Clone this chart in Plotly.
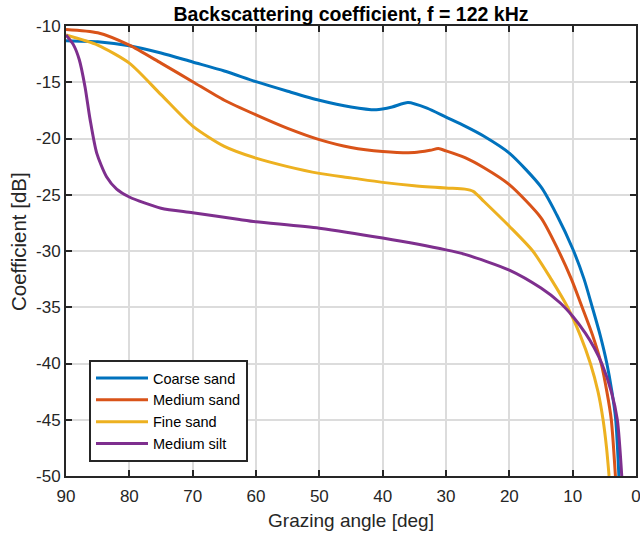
import plotly.graph_objects as go

# ---- data ----
coarse_x = [90, 85, 80, 75, 70, 65, 60, 55, 50, 45, 41, 38.5, 36, 33, 30, 27, 24, 20, 15, 12.5, 10, 8.2, 6.9, 5.65, 4.6, 3.8, 3.2, 2.7]
coarse_y = [-11.3, -11.4, -11.75, -12.4, -13.2, -14.0, -14.95, -15.8, -16.6, -17.2, -17.45, -17.2, -16.8, -17.3, -18.1, -18.9, -19.8, -21.3, -24.3, -26.8, -29.8, -32.5, -35, -37.5, -40, -42.5, -45, -50]

medium_sand_x = [90, 85, 80, 75, 70, 65, 60, 55, 50, 45, 40, 35, 32.5, 31.2, 30, 27, 24, 20, 15, 12.3, 10.2, 8.5, 6.85, 5.5, 4.6, 3.9, 3.25]
medium_sand_y = [-10.3, -10.6, -11.7, -13.3, -14.95, -16.6, -17.9, -19.1, -20.1, -20.8, -21.15, -21.25, -21.05, -20.9, -21.1, -21.7, -22.6, -24.1, -27.05, -29.9, -32.5, -35, -37.5, -40, -42.5, -45, -50]

fine_x = [90, 85, 80, 75, 70, 65, 60, 55, 50, 45, 40, 35, 30, 27, 25.7, 24, 20, 16.3, 13.4, 10.8, 8.8, 7.2, 6.0, 5.2, 4.65, 4.25]
fine_y = [-10.8, -11.7, -13.3, -16.1, -18.9, -20.7, -21.75, -22.5, -23.1, -23.5, -23.9, -24.2, -24.4, -24.5, -24.7, -25.6, -27.8, -30, -32.5, -35, -37.5, -40, -42.5, -45, -47.5, -50]

silt_x = [90, 88.8, 87.9, 87.0, 86.2, 85.15, 83.6, 82.0, 80, 75, 70, 62.6, 60, 50, 40, 30, 27, 20, 15, 12, 10, 8, 6.6, 5.4, 3.9, 2.95, 2.25]
silt_y = [-10.8, -11.7, -13.0, -15.4, -18.3, -21.3, -23.4, -24.5, -25.2, -26.2, -26.6, -27.2, -27.4, -27.97, -28.85, -29.9, -30.3, -31.7, -33.3, -34.6, -35.8, -37.3, -38.6, -40, -42.5, -45, -50]

names = ["Coarse sand", "Medium sand", "Fine sand", "Medium silt"]
colors = ["#0072BD", "#D95319", "#EDB120", "#7E2F8E"]
series = [(coarse_x, coarse_y), (medium_sand_x, medium_sand_y), (fine_x, fine_y), (silt_x, silt_y)]

x_ticks = [90, 80, 70, 60, 50, 40, 30, 20, 10, 0]
x_tick_text = ["90", "80", "70", "60", "50", "40", "30", "20", "10", "0"]
y_ticks = [-10, -15, -20, -25, -30, -35, -40, -45, -50]
y_tick_text = ["-10", "-15", "-20", "-25", "-30", "-35", "-40", "-45", "-50"]

FONT = "Arial, Liberation Sans, Helvetica, sans-serif"
DARK = "#262626"

fig = go.Figure()
for (xs, ys), name, col in zip(series, names, colors):
    fig.add_trace(go.Scatter(
        x=xs, y=ys, mode="lines", name=name,
        line=dict(color=col, width=3, shape="spline", smoothing=0.7),
    ))

axis_common = dict(
    showline=True, linecolor=DARK, linewidth=2, mirror="ticks",
    ticks="inside", ticklen=6, tickwidth=2, tickcolor=DARK,
    showgrid=True, gridcolor="#dcdcdc", gridwidth=2,
    zeroline=False, automargin=False, ticklabeloverflow="allow",
    tickfont=dict(family=FONT, size=17, color=DARK),
)

fig.update_layout(
    width=640, height=537,
    margin=dict(l=66, r=4, t=26, b=61),
    plot_bgcolor="white", paper_bgcolor="white",
    title=dict(text="<b>Backscattering coefficient, f = 122 kHz</b>",
               x=351 / 640, xanchor="center", y=1 - 14 / 537, yanchor="middle",
               font=dict(family=FONT, size=19.5, color="black")),
    xaxis=dict(range=[90, 0], tickvals=x_ticks, ticktext=x_tick_text, ticklabelstandoff=4,
               title=dict(text="Grazing angle [deg]", font=dict(family=FONT, size=19, color=DARK), standoff=8),
               **axis_common),
    yaxis=dict(range=[-50, -10], tickvals=y_ticks, ticktext=y_tick_text, **axis_common),
    legend=dict(x=(89 - 66) / 570, y=(476 - 360) / 450, xanchor="left", yanchor="top",
                bgcolor="white", bordercolor=DARK, borderwidth=2,
                font=dict(family=FONT, size=14.5, color="black"),
                itemwidth=52, tracegroupgap=0),
    showlegend=True,
    annotations=[dict(
        text="Coefficient [dB]", textangle=-90, showarrow=False,
        xref="paper", yref="paper", x=(18 - 66) / 570, y=(476 - 242) / 450,
        xanchor="center", yanchor="middle",
        font=dict(family=FONT, size=20.5, color=DARK),
    )],
)

fig.write_html("out.html", config={"displayModeBar": False},
               post_script="document.body.style.margin='0';")
